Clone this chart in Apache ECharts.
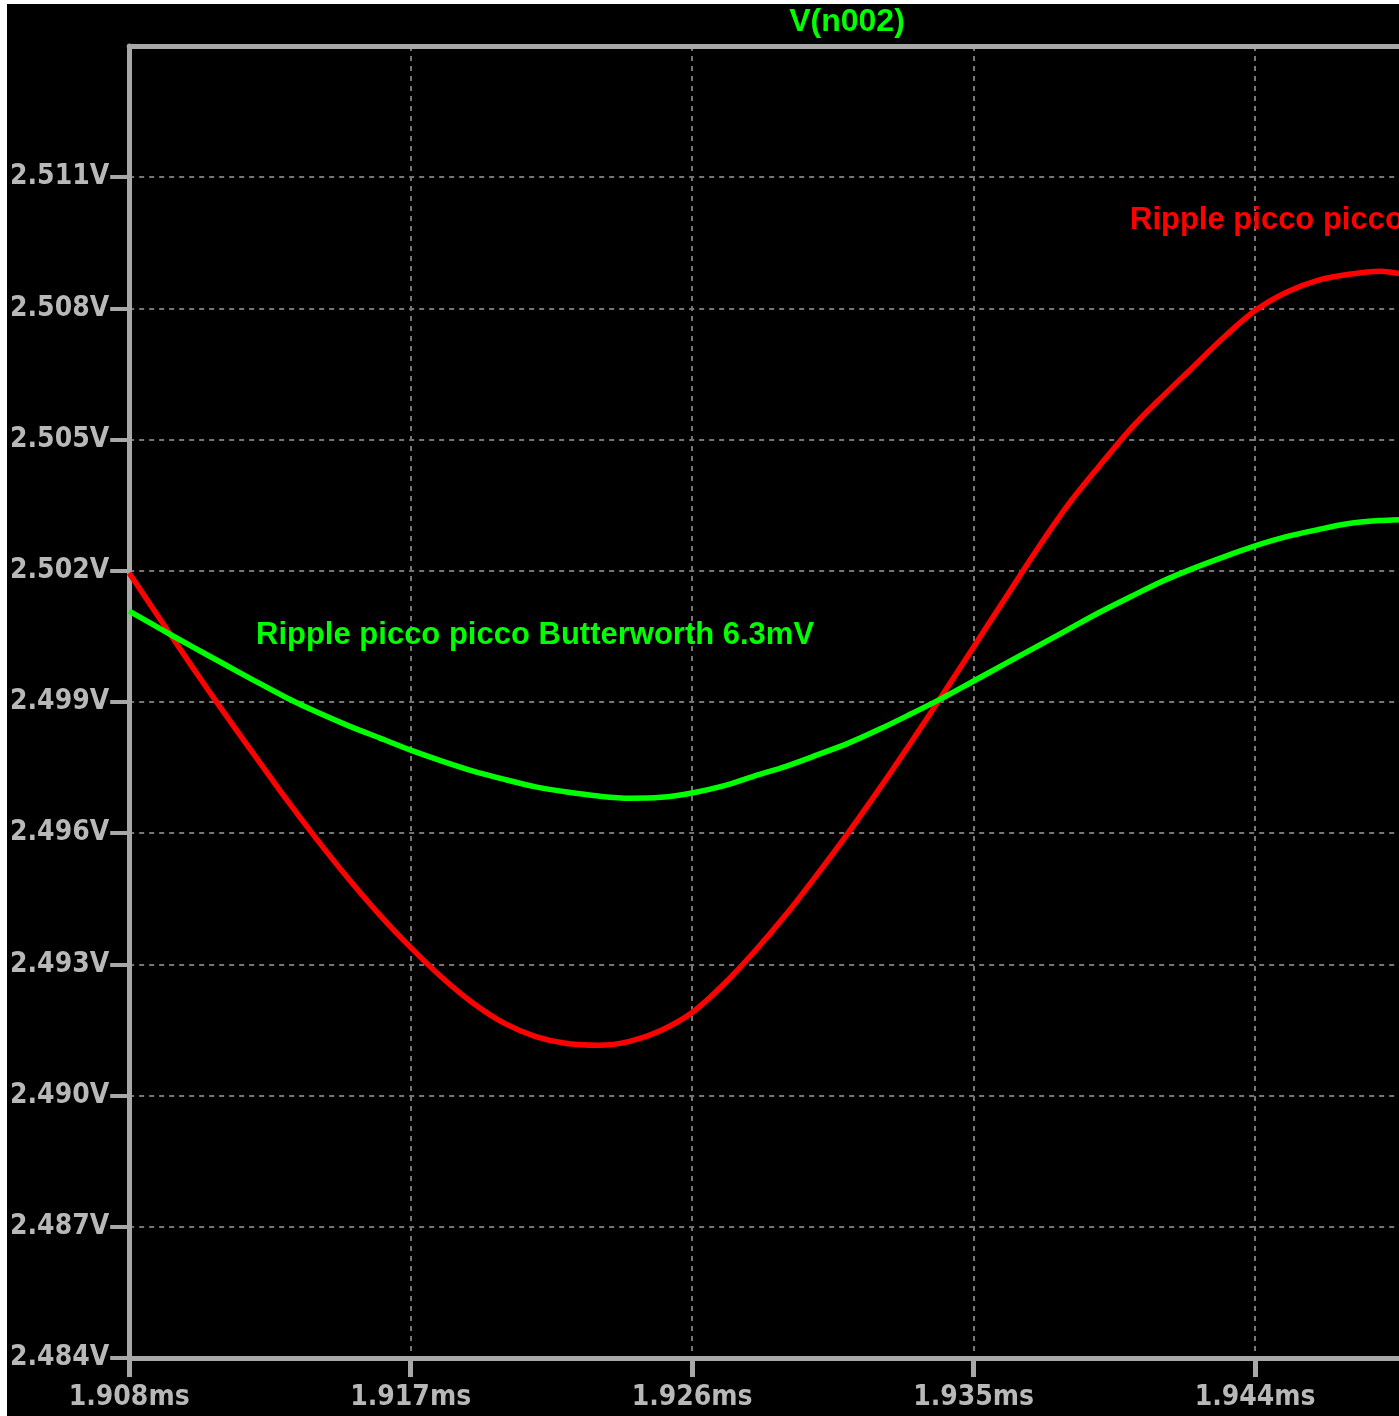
<!DOCTYPE html>
<html>
<head>
<meta charset="utf-8">
<script src="https://cdn.jsdelivr.net/npm/echarts@6/dist/echarts.min.js"></script>
<style>
  html, body { margin: 0; padding: 0; background: #ffffff; width: 1399px; height: 1416px; overflow: hidden; }
  #chart { position: absolute; left: 7px; top: 4px; width: 1392px; height: 1412px; background: #000000; }
</style>
</head>
<body>
<div id="chart"></div>
<script>
// Transient of V(n002): time in ms, two traces in volts
const timeMs = [
  1.908, 1.909, 1.910, 1.911, 1.912, 1.913, 1.914, 1.915, 1.916, 1.917,
  1.918, 1.919, 1.920, 1.921, 1.922, 1.923, 1.924, 1.925, 1.926, 1.927,
  1.928, 1.929, 1.930, 1.931, 1.932, 1.933, 1.934, 1.935, 1.936, 1.937,
  1.938, 1.939, 1.940, 1.941, 1.942, 1.943, 1.944, 1.945, 1.946, 1.947,
  1.948, 1.9486
];

// red trace
const vTraceA = [
  2.50195, 2.50088, 2.49982, 2.49879, 2.49779, 2.49680, 2.49586, 2.49497, 2.49414, 2.49339,
  2.49270, 2.49211, 2.49165, 2.49135, 2.49119, 2.49115, 2.49124, 2.49149, 2.49190, 2.49254,
  2.49330, 2.49414, 2.49506, 2.49602, 2.49703, 2.49808, 2.49916, 2.50026, 2.50136, 2.50246,
  2.50349, 2.50438, 2.50523, 2.50596, 2.50665, 2.50734, 2.50795, 2.50837, 2.50864, 2.50878,
  2.50885, 2.50880
];

// green trace (Butterworth)
const vButterworth = [
  2.50108, 2.50067, 2.50027, 2.49988, 2.49949, 2.49911, 2.49877, 2.49846, 2.49818, 2.49790,
  2.49765, 2.49742, 2.49723, 2.49706, 2.49694, 2.49685, 2.49680, 2.49682, 2.49692, 2.49708,
  2.49731, 2.49753, 2.49779, 2.49806, 2.49838, 2.49873, 2.49909, 2.49948, 2.49987, 2.50026,
  2.50065, 2.50104, 2.50140, 2.50175, 2.50205, 2.50232, 2.50257, 2.50278, 2.50294, 2.50308,
  2.50315, 2.50317
];

// axis ranges and tick steps
const xRange = [1.908, 1.9486];
const xStep = 0.009;
const yRange = [2.484, 2.514];
const yStep = 0.003;

const titleText = 'V(n002)';
const noteGreen = 'Ripple picco picco Butterworth 6.3mV';
const noteRed = 'Ripple picco picco 17.7mV';

const axisGray = '#a8a8a8';
const gridGray = '#767676';
const labelStyle = {
  color: '#b8b8b8',
  fontFamily: '"DejaVu Sans Condensed", "DejaVu Sans", sans-serif',
  fontWeight: 'bold',
  fontSize: 28
};

const chart = echarts.init(document.getElementById('chart'), null, { renderer: 'canvas' });

const zip = (xs, ys) => xs.map((x, i) => [x, ys[i]]);

chart.setOption({
  backgroundColor: '#000000',
  animation: false,
  grid: { left: 120, top: 42, right: 0, bottom: 58, containLabel: false },
  xAxis: [
    {
      type: 'value',
      position: 'bottom',
      min: xRange[0],
      max: xRange[1],
      interval: xStep,
      axisLine: { show: true, lineStyle: { color: axisGray, width: 5 } },
      axisTick: { show: true, length: 19, lineStyle: { color: axisGray, width: 5 } },
      axisLabel: Object.assign({}, labelStyle, {
        margin: 26,
        showMaxLabel: false,
        formatter: v => v.toFixed(3) + 'ms'
      }),
      splitLine: {
        show: true,
        showMinLine: false,
        showMaxLine: false,
        lineStyle: { color: gridGray, width: 2, type: [5, 5] }
      }
    },
    {
      // top frame line
      type: 'value',
      position: 'top',
      min: xRange[0],
      max: xRange[1],
      interval: xStep,
      axisLine: { show: true, lineStyle: { color: axisGray, width: 5 } },
      axisTick: { show: false },
      axisLabel: { show: false },
      splitLine: { show: false }
    }
  ],
  yAxis: {
    type: 'value',
    min: yRange[0],
    max: yRange[1],
    interval: yStep,
    axisLine: { show: true, lineStyle: { color: axisGray, width: 5 } },
    axisTick: { show: true, length: 19, lineStyle: { color: axisGray, width: 4 } },
    axisLabel: Object.assign({}, labelStyle, {
      margin: 20,
      showMaxLabel: false,
      formatter: v => v.toFixed(3) + 'V'
    }),
    splitLine: {
      show: true,
      showMinLine: false,
      showMaxLine: false,
      lineStyle: { color: gridGray, width: 2, type: [5, 5] }
    }
  },
  series: [
    {
      type: 'line',
      data: zip(timeMs, vTraceA),
      showSymbol: false,
      smooth: 0.3,
      lineStyle: { color: '#ff0000', width: 5.5 },
      z: 3
    },
    {
      type: 'line',
      data: zip(timeMs, vButterworth),
      showSymbol: false,
      smooth: 0.3,
      lineStyle: { color: '#00ff00', width: 5.5 },
      z: 4
    }
  ],
  graphic: [
    {
      type: 'text', x: 840, y: 18, z: 10,
      style: {
        text: titleText, fill: '#00ff00',
        font: 'bold 32px "Liberation Sans", Arial, sans-serif',
        align: 'center', verticalAlign: 'middle',
        textAlign: 'center', textVerticalAlign: 'middle'
      }
    },
    {
      type: 'text', x: 249, y: 631, z: 10,
      style: {
        text: noteGreen, fill: '#00ff00',
        font: 'bold 31px "Liberation Sans", Arial, sans-serif',
        align: 'left', verticalAlign: 'middle',
        textAlign: 'left', textVerticalAlign: 'middle'
      }
    },
    {
      type: 'text', x: 1123, y: 216, z: 10,
      style: {
        text: noteRed, fill: '#ff0000',
        font: 'bold 31px "Liberation Sans", Arial, sans-serif',
        align: 'left', verticalAlign: 'middle',
        textAlign: 'left', textVerticalAlign: 'middle'
      }
    }
  ]
});
</script>
</body>
</html>
